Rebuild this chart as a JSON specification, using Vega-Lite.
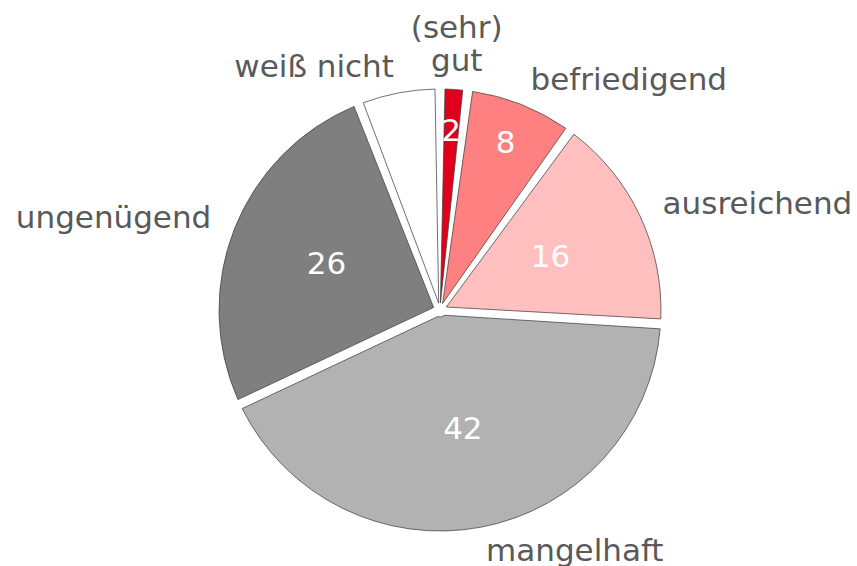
{
  "$schema": "https://vega.github.io/schema/vega-lite/v6.json",
  "autosize": "none",
  "width": 834,
  "height": 516,
  "padding": {"left": 23, "top": 52, "right": 0, "bottom": 0},
  "background": "white",
  "config": {"view": {"stroke": null}, "font": "DejaVu Sans"},
  "data": {
    "values": [
      {"nr": 1, "kat": "(sehr) gut", "wert": 2},
      {"nr": 2, "kat": "befriedigend", "wert": 8},
      {"nr": 3, "kat": "ausreichend", "wert": 16},
      {"nr": 4, "kat": "mangelhaft", "wert": 42},
      {"nr": 5, "kat": "ungenügend", "wert": 26},
      {"nr": 6, "kat": "weiß nicht", "wert": 6}
    ]
  },
  "encoding": {
    "theta": {"field": "wert", "type": "quantitative", "stack": true},
    "order": {"field": "nr", "type": "quantitative"}
  },
  "layer": [
    {
      "mark": {"type": "arc", "outerRadius": 221, "innerRadius": 7, "padAngle": 0.045, "stroke": "#404040", "strokeWidth": 0.75},
      "encoding": {
        "color": {
          "field": "kat",
          "type": "nominal",
          "scale": {
            "domain": ["(sehr) gut", "befriedigend", "ausreichend", "mangelhaft", "ungenügend", "weiß nicht"],
            "range": ["#e0001b", "#ff8080", "#ffbfbf", "#b2b2b2", "#7f7f7f", "#ffffff"]
          },
          "legend": null
        }
      }
    },
    {
      "mark": {"type": "text", "radius": 266, "align": "center", "baseline": "bottom", "lineBreak": " ", "lineHeight": 33, "fontSize": 31, "color": "#595959", "font": "DejaVu Sans"},
      "encoding": {
        "text": {"condition": {"test": "datum.kat === '(sehr) gut'", "field": "kat"}, "value": ""}
      }
    },
    {
      "mark": {"type": "text", "radius": 246, "align": "left", "baseline": "middle", "fontSize": 31, "color": "#595959", "font": "DejaVu Sans"},
      "encoding": {
        "text": {"condition": {"test": "datum.kat === 'befriedigend' || datum.kat === 'ausreichend' || datum.kat === 'mangelhaft'", "field": "kat"}, "value": ""}
      }
    },
    {
      "mark": {"type": "text", "radius": 246, "align": "right", "baseline": "middle", "fontSize": 31, "color": "#595959", "font": "DejaVu Sans"},
      "encoding": {
        "text": {"condition": {"test": "datum.kat === 'ungenügend' || datum.kat === 'weiß nicht'", "field": "kat"}, "value": ""}
      }
    },
    {
      "mark": {"type": "text", "radius": 178, "align": "center", "baseline": "middle", "fontSize": 31, "color": "#ffffff", "font": "DejaVu Sans"},
      "encoding": {
        "text": {"condition": {"test": "datum.kat === '(sehr) gut' || datum.kat === 'befriedigend'", "field": "wert", "type": "quantitative"}, "value": ""}
      }
    },
    {
      "mark": {"type": "text", "radius": 122, "align": "center", "baseline": "middle", "fontSize": 31, "color": "#ffffff", "font": "DejaVu Sans"},
      "encoding": {
        "text": {"condition": {"test": "datum.kat === 'ausreichend' || datum.kat === 'mangelhaft' || datum.kat === 'ungenügend'", "field": "wert", "type": "quantitative"}, "value": ""}
      }
    }
  ]
}
